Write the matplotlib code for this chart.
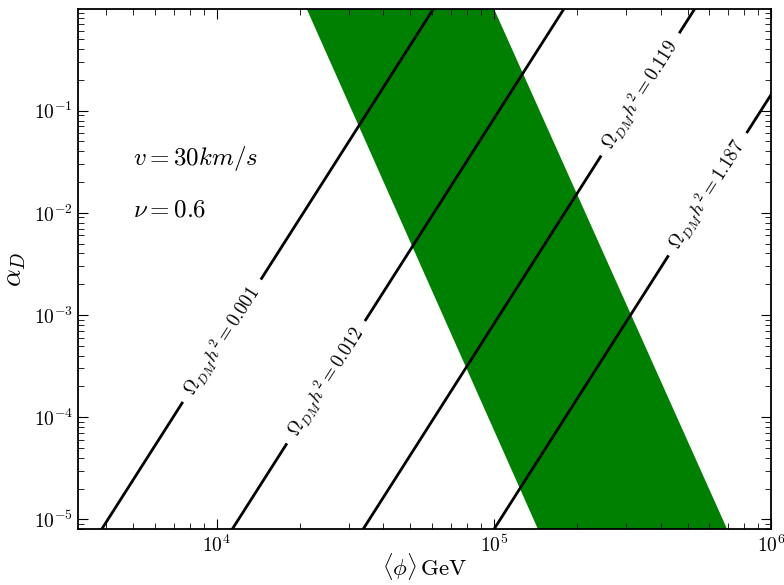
import numpy as np
import matplotlib
matplotlib.use("Agg")
import matplotlib.pyplot as plt

plt.rcParams['mathtext.fontset'] = 'cm'
plt.rcParams['font.family'] = 'serif'
plt.rcParams['font.serif'] = ['cmr10', 'DejaVu Serif']
plt.rcParams['axes.formatter.use_mathtext'] = True
plt.rcParams['axes.unicode_minus'] = False

# relic-density lines: <phi> (GeV) at alpha_D = 1e-6 and alpha_D = 1
line_alpha = [1e-6, 1.0]
omega_labels = ['0.001', '0.012', '0.119', '1.187']
line_phi = [
    [2.36e3, 6.07e4],
    [6.98e3, 1.795e5],
    [2.07e4, 5.32e5],
    [6.14e4, 1.58e6],
]
# alpha_D where the inline label sits on each line
label_alpha = [5.6e-4, 2.2e-4, 0.144, 0.0152]

# green band: edges at alpha_D = 1e-6 and alpha_D = 1
band_alpha = [1e-6, 1.0]
band_phi_low = [2.03e5, 2.11e4]
band_phi_high = [9.8e5, 1.0e5]

fig = plt.figure(figsize=(7.84, 5.85), dpi=100)
ax = fig.add_axes([0.0995, 0.0952, 0.8839, 0.8889])
ax.set_xscale('log')
ax.set_yscale('log')
ax.set_xlim(10**3.5, 1e6)
ax.set_ylim(8e-6, 0.98)

poly_x = [band_phi_low[0], band_phi_high[0], band_phi_high[1], band_phi_low[1]]
poly_y = [band_alpha[0], band_alpha[0], band_alpha[1], band_alpha[1]]
ax.fill(poly_x, poly_y, color='#008000', lw=0, zorder=1)

half_gap = 0.61  # decades in alpha
fig.canvas.draw()
for phis, lab, la in zip(line_phi, omega_labels, label_alpha):
    lx = np.log10(phis)
    ly = np.log10(line_alpha)
    c = np.log10(la)
    # parametrise by log alpha
    def phi_at(v):
        return 10 ** np.interp(v, ly, lx)
    seg1 = np.array([ly[0], c - half_gap])
    seg2 = np.array([c + half_gap, ly[1]])
    for s in (seg1, seg2):
        ax.plot(phi_at(s), 10 ** s, color='k', lw=2, zorder=2)
    # rotation from screen coords
    p0 = ax.transData.transform((phis[0], line_alpha[0]))
    p1 = ax.transData.transform((phis[1], line_alpha[1]))
    ang = np.degrees(np.arctan2(p1[1] - p0[1], p1[0] - p0[0]))
    ax.text(phi_at(c), la, r'$\Omega_{DM}h^2 = %s$' % lab, rotation=ang,
            rotation_mode='anchor', ha='center', va='center', fontsize=13.5, zorder=3)

ax.text(0.079, 0.713, r'$v = 30km/s$', transform=ax.transAxes, fontsize=18, va='center')
ax.text(0.079, 0.613, r'$\nu = 0.6$', transform=ax.transAxes, fontsize=18, va='center')

ax.set_xlabel(r'$\langle\phi\rangle\,\mathrm{GeV}$', fontsize=16.5, labelpad=-3)
ax.set_ylabel(r'$\alpha_D$', fontsize=20, labelpad=4)
ax.tick_params(which='both', direction='in', top=True, right=True, labelsize=14)
ax.tick_params(which='major', length=7)
ax.tick_params(which='minor', length=4)
for sp in ax.spines.values():
    sp.set_linewidth(1.3)

fig.savefig('out.png', dpi=100)
